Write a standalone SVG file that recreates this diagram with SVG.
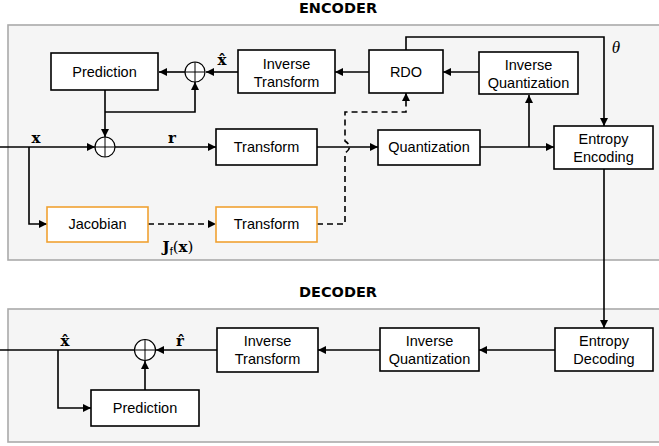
<svg xmlns="http://www.w3.org/2000/svg" width="659" height="446" viewBox="0 0 659 446">
<style>
.panel{fill:#f5f5f5;stroke:#aaaaaa;stroke-width:1.6}
.box{fill:#ffffff;stroke:#000000;stroke-width:1.6}
.obox{fill:#ffffff;stroke:#f0a232;stroke-width:1.6}
.lbl{font-family:"Liberation Sans",Arial,sans-serif;font-size:14.5px;fill:#000;text-anchor:middle}
.title{font-family:"DejaVu Sans",sans-serif;font-weight:bold;font-size:14.5px;fill:#000;text-anchor:middle}
.math{font-family:"DejaVu Serif","Liberation Serif",serif;font-weight:bold;font-size:15px;fill:#000;text-anchor:middle}
.it{font-family:"Liberation Serif","Times New Roman",serif;font-style:italic;font-size:17px;fill:#000;text-anchor:middle}
.c{fill:none;stroke:#000;stroke-width:1.6}
.d{fill:none;stroke:#000;stroke-width:1.6;stroke-dasharray:6,4}
.sum{fill:#fff;stroke:#000;stroke-width:1.2}
</style>
<defs>
<marker id="ah" viewBox="0 0 10 10" refX="10" refY="5" markerWidth="9" markerHeight="8" markerUnits="userSpaceOnUse" orient="auto">
<path d="M0,0 L10,5 L0,10 z" fill="#000"/>
</marker>
</defs>

<g id="encoder-panel">
<rect class="panel" x="8" y="25" width="665" height="235"/>
<text class="title" x="338" y="13">ENCODER</text>
</g>
<g id="decoder-panel">
<rect class="panel" x="8" y="309" width="665" height="133"/>
<text class="title" x="338" y="297">DECODER</text>
</g>

<g id="connectors">
<path class="c" d="M0,147 H95" marker-end="url(#ah)"/>
<path class="c" d="M115,147 H216" marker-end="url(#ah)"/>
<path class="c" d="M317,147 H378" marker-end="url(#ah)"/>
<path class="c" d="M480,147 H554" marker-end="url(#ah)"/>
<path class="c" d="M529,147 V95" marker-end="url(#ah)"/>
<path class="c" d="M479,72 H443" marker-end="url(#ah)"/>
<path class="c" d="M369,72 H335" marker-end="url(#ah)"/>
<path class="c" d="M238,72 H206" marker-end="url(#ah)"/>
<path class="c" d="M185,72 H159" marker-end="url(#ah)"/>
<path class="c" d="M105,90 V137" marker-end="url(#ah)"/>
<path class="c" d="M105,112 H195 V82" marker-end="url(#ah)"/>
<path class="c" d="M406,50 V37 H604 V126" marker-end="url(#ah)"/>
<path class="c" d="M29,147 V224 H47" marker-end="url(#ah)"/>
<path class="d" d="M148,224 H216" marker-end="url(#ah)"/>
<path class="d" d="M317,224 H345 V153 Q354,147 345,141 V112 H406 V93" marker-end="url(#ah)"/>
<path class="c" d="M604,169 V328" marker-end="url(#ah)"/>
<path class="c" d="M555,350 H479" marker-end="url(#ah)"/>
<path class="c" d="M380,350 H318" marker-end="url(#ah)"/>
<path class="c" d="M217,350 H156" marker-end="url(#ah)"/>
<path class="c" d="M135,350 H0"/>
<path class="c" d="M58,350 V408 H91" marker-end="url(#ah)"/>
<path class="c" d="M145,390 V361" marker-end="url(#ah)"/>
</g>

<g id="sum-enc-main">
<circle class="sum" cx="105" cy="147" r="10"/>
<path class="c" style="stroke-width:1" d="M95,147 H115 M105,137 V157"/>
</g>
<g id="sum-enc-top">
<circle class="sum" cx="195" cy="72" r="10"/>
<path class="c" style="stroke-width:1" d="M185,72 H205 M195,62 V82"/>
</g>
<g id="sum-dec">
<circle class="sum" cx="145" cy="350" r="10.5"/>
<path class="c" style="stroke-width:1" d="M134.5,350 H155.5 M145,339.5 V360.5"/>
</g>

<g id="prediction-enc">
<rect class="box" x="51" y="53" width="107" height="37"/>
<text class="lbl" x="104.5" y="77">Prediction</text>
</g>
<g id="inverse-transform-enc">
<rect class="box" x="238" y="50" width="97" height="43"/>
<text class="lbl" x="286.5" y="69">Inverse</text>
<text class="lbl" x="286.5" y="87">Transform</text>
</g>
<g id="rdo">
<rect class="box" x="369" y="50" width="74" height="43"/>
<text class="lbl" x="406" y="77">RDO</text>
</g>
<g id="inverse-quantization-enc">
<rect class="box" x="479" y="52" width="99" height="42"/>
<text class="lbl" x="528.5" y="70">Inverse</text>
<text class="lbl" x="528.5" y="88">Quantization</text>
</g>
<g id="transform-enc">
<rect class="box" x="216" y="129" width="101" height="36"/>
<text class="lbl" x="266.5" y="152">Transform</text>
</g>
<g id="quantization-enc">
<rect class="box" x="378" y="130" width="102" height="35"/>
<text class="lbl" x="429" y="152">Quantization</text>
</g>
<g id="entropy-encoding">
<rect class="box" x="554" y="126" width="99" height="43"/>
<text class="lbl" x="603.5" y="144">Entropy</text>
<text class="lbl" x="603.5" y="162">Encoding</text>
</g>
<g id="jacobian">
<rect class="obox" x="47" y="207" width="101" height="35"/>
<text class="lbl" x="97.5" y="229">Jacobian</text>
</g>
<g id="transform-jac">
<rect class="obox" x="216" y="207" width="101" height="35"/>
<text class="lbl" x="266.5" y="229">Transform</text>
</g>

<g id="entropy-decoding">
<rect class="box" x="555" y="328" width="98" height="43"/>
<text class="lbl" x="604" y="346">Entropy</text>
<text class="lbl" x="604" y="364">Decoding</text>
</g>
<g id="inverse-quantization-dec">
<rect class="box" x="380" y="328" width="99" height="43"/>
<text class="lbl" x="429.5" y="346">Inverse</text>
<text class="lbl" x="429.5" y="364">Quantization</text>
</g>
<g id="inverse-transform-dec">
<rect class="box" x="217" y="328" width="101" height="44"/>
<text class="lbl" x="267.5" y="346">Inverse</text>
<text class="lbl" x="267.5" y="364">Transform</text>
</g>
<g id="prediction-dec">
<rect class="box" x="91" y="390" width="108" height="36"/>
<text class="lbl" x="145" y="413">Prediction</text>
</g>

<g id="labels">
<text class="math" x="36" y="143">x</text>
<text class="math" x="172" y="143">r</text>
<text class="math" x="222" y="65">x&#x302;</text>
<text class="math" x="65" y="346">x&#x302;</text>
<text class="math" x="180" y="346">r&#x302;</text>
<text class="it" x="616" y="53">θ</text>
<text class="math" x="178" y="252">J<tspan style="font-weight:normal;font-family:'Liberation Sans',sans-serif;font-size:11px" dy="3">f</tspan><tspan dy="-3" style="font-weight:normal">(</tspan>x<tspan style="font-weight:normal">)</tspan></text>
</g>
</svg>
